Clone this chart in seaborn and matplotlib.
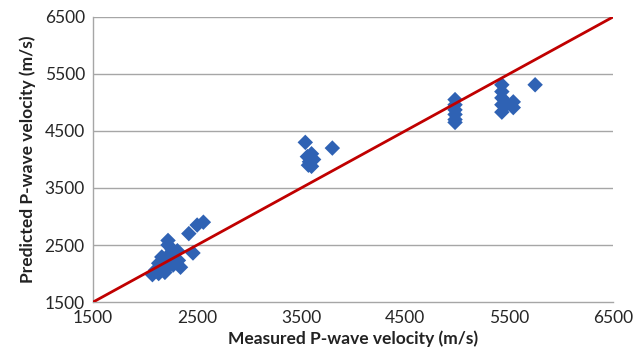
import matplotlib
matplotlib.use("Agg")
import matplotlib.pyplot as plt
import pandas as pd
import seaborn as sns

# measured vs predicted P-wave velocity (m/s)
measured = [2560, 2500, 2420, 2460, 2220, 2220, 2260, 2310, 2320, 2340, 2270, 2160,
            2130, 2100, 2070, 2130, 2190, 2210, 2180, 2240,
            3540, 3800, 3560, 3600, 3580, 3620, 3570, 3600,
            4980, 4980, 4980, 4980, 4980, 4980,
            5430, 5430, 5430, 5430, 5430, 5540, 5540, 5480, 5750]
predicted = [2900, 2850, 2700, 2360, 2580, 2500, 2420, 2400, 2230, 2110, 2150, 2290,
             2180, 2060, 1980, 2000, 2020, 2100, 2250, 2350,
             4300, 4200, 4050, 4100, 3960, 4000, 3900, 3880,
             5050, 4960, 4870, 4790, 4700, 4650,
             5310, 5190, 5080, 4960, 4830, 5010, 4910, 4970, 5310]
line_x = [1500, 6500]
line_y = [1500, 6500]
ticks = [1500, 2500, 3500, 4500, 5500, 6500]

df = pd.DataFrame({"measured": measured, "predicted": predicted})

sns.set_style("white")
plt.rcParams['font.family'] = ['Lato', 'DejaVu Sans']

fig = plt.figure(figsize=(6.38, 3.6), dpi=100)
ax = fig.add_axes([0.146, 0.161, 0.815, 0.792])

for t in ticks[1:]:
    ax.axhline(t, color="#a6a6a6", lw=1, zorder=0)

sns.scatterplot(data=df, x="measured", y="predicted", marker="D", s=62,
                color="#2f62b4", edgecolor="none", ax=ax, zorder=3)
ax.plot(line_x, line_y, color="#c00000", lw=2, zorder=4)

ax.set_xlim(1500, 6500)
ax.set_ylim(1500, 6500)
ax.set_xticks(ticks)
ax.set_yticks(ticks)
ax.tick_params(labelsize=12.5, colors="#262626", length=0, pad=6)
ax.set_xlabel("Measured P-wave velocity (m/s)", fontsize=12.5, fontweight="bold", color="#222222", labelpad=3)
ax.set_ylabel("Predicted P-wave velocity (m/s)", fontsize=12.5, fontweight="bold", color="#222222", labelpad=6)

for side in ["top", "right"]:
    ax.spines[side].set_visible(False)
for side in ["left", "bottom"]:
    ax.spines[side].set_color("#a6a6a6")
    ax.spines[side].set_linewidth(1)

fig.savefig("out.png", dpi=100)
